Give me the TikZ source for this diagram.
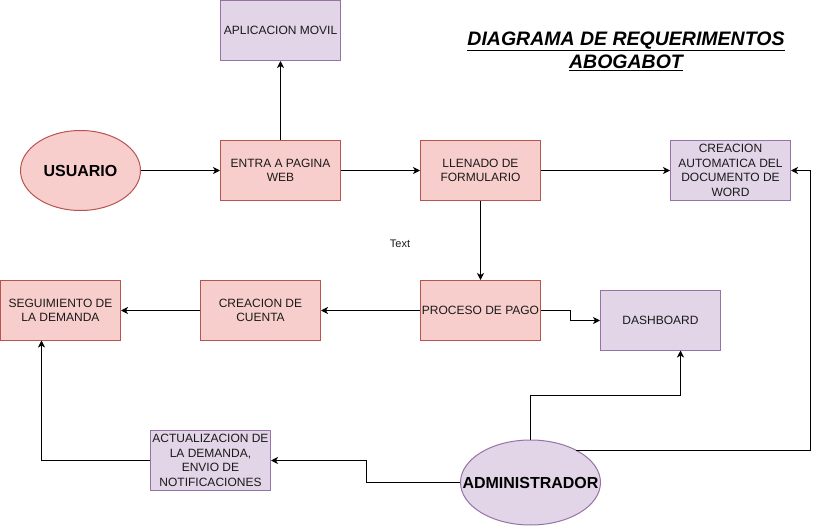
\documentclass[tikz,border=0pt]{standalone}
\usepackage{fontspec}
\setmainfont{Liberation Sans}
\usetikzlibrary{arrows.meta,shapes.geometric}
\definecolor{redfill}{HTML}{F8CECC}
\definecolor{redline}{HTML}{B85450}
\definecolor{purfill}{HTML}{E1D5E7}
\definecolor{purline}{HTML}{9673A6}
\definecolor{txt}{HTML}{1A1A1A}
\tikzset{
  box/.style={rectangle, minimum width=120pt, minimum height=60pt, inner sep=0pt, align=center, line width=1pt, text=txt, font=\fontsize{12}{14.5}\selectfont},
  redbox/.style={box, draw=redline, fill=redfill},
  purbox/.style={box, draw=purline, fill=purfill},
  oval/.style={ellipse, inner sep=0pt, line width=1pt},
  ovaltext/.style={font=\bfseries\fontsize{16}{19}\selectfont, inner sep=0pt},
  conn/.style={line width=1pt, -{Stealth[length=7pt,width=7pt,inset=2pt]}},
}
\begin{document}
\begin{tikzpicture}[x=1pt,y=-1pt]
\useasboundingbox (0,0) rectangle (820,527);
% nodes
\node[purbox] (app) at (280.5,30.5) {APLICACION MOVIL};
\node[oval, draw=redline, fill=redfill, minimum width=120pt, minimum height=80pt,
      label={[ovaltext]center:USUARIO}] (usr) at (80.5,170.5) {};
\node[redbox] (web) at (280.5,170.5) {ENTRA A PAGINA\\WEB};
\node[redbox] (form) at (480.5,170.5) {LLENADO DE\\FORMULARIO};
\node[purbox] (doc) at (730.5,170.5) {CREACION\\AUTOMATICA DEL\\DOCUMENTO DE\\WORD};
\node[redbox] (pago) at (480.5,310.5) {PROCESO DE PAGO};
\node[redbox] (cuenta) at (260.5,310.5) {CREACION DE\\CUENTA};
\node[redbox] (seg) at (60.5,310.5) {SEGUIMIENTO DE\\LA DEMANDA};
\node[purbox] (dash) at (660.5,320.5) {DASHBOARD};
\node[purbox] (act) at (210.5,460.5) {ACTUALIZACION DE\\LA DEMANDA,\\ENVIO DE\\NOTIFICACIONES};
\node[oval, draw=purline, fill=purfill, minimum width=140pt, minimum height=85pt,
      label={[ovaltext]center:ADMINISTRADOR}] (adm) at (530.5,482.5) {};
\node[text=txt, font=\fontsize{11}{13}\selectfont] (txtlbl) at (400,244) {Text};
\node[align=center, font=\bfseries\itshape\fontsize{19.5}{23}\selectfont] (title) at (626,51) {\underline{DIAGRAMA DE REQUERIMENTOS}\\\underline{ABOGABOT}};
\coordinate (admr) at (576,450.5);
% connectors
\draw[conn] (usr) -- (web);
\draw[conn] (web) -- (app);
\draw[conn] (web) -- (form);
\draw[conn] (form) -- (doc);
\draw[conn] (form) -- (pago);
\draw[conn] (pago) -- (cuenta);
\draw[conn] (cuenta) -- (seg);
\draw[conn] (pago.east) -- (570.5,310.5) -- (570.5,320.5) -- (dash.west);
\draw[conn] (adm.north) -- (530.5,395.5) -- (680.5,395.5) -- (680.5,350.5);
\draw[conn] (admr) -- (810.5,450.5) -- (810.5,170.5) -- (doc.east);
\draw[conn] (adm.west) -- (366.5,482.5) -- (366.5,460.5) -- (act.east);
\draw[conn] (act.west) -- (41.5,460.5) -- (41.5,340.5);
\end{tikzpicture}
\end{document}
